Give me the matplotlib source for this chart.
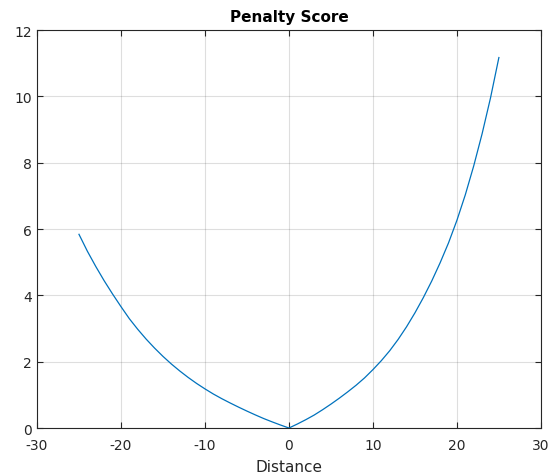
import numpy as np
import matplotlib.pyplot as plt

plt.rcParams['axes.unicode_minus'] = False

# values
distance = [-25, -24, -23, -22, -21, -20, -19, -18, -17, -16, -15, -14, -13,
            -12, -11, -10, -9, -8, -7, -6, -5, -4, -3, -2, -1, 0,
            1, 2, 3, 4, 5, 6, 7, 8, 9, 10, 11, 12, 13,
            14, 15, 16, 17, 18, 19, 20, 21, 22, 23, 24, 25]
penalty = [5.84, 5.33, 4.87, 4.44, 4.04, 3.66, 3.295, 2.975, 2.68, 2.41, 2.16, 1.93, 1.72,
           1.525, 1.345, 1.18, 1.025, 0.885, 0.755, 0.63, 0.51, 0.395, 0.285, 0.185, 0.09, 0.0,
           0.12, 0.25, 0.39, 0.55, 0.72, 0.90, 1.09, 1.29, 1.51, 1.76, 2.03, 2.33, 2.67,
           3.05, 3.47, 3.93, 4.43, 4.98, 5.58, 6.26, 7.03, 7.90, 8.87, 9.95, 11.17]
x_ticks = [-30, -20, -10, 0, 10, 20, 30]
y_ticks = [0, 2, 4, 6, 8, 10, 12]

axis_grey = '#262626'

fig = plt.figure(figsize=(5.48, 4.77), dpi=100)
ax = fig.add_axes([0.0675, 0.1006, 0.9195, 0.8344])

ax.plot(distance, penalty, color='#0072BD', lw=0.9)

ax.set_xlim(-30, 30)
ax.set_ylim(0, 12)
ax.set_xticks(x_ticks)
ax.set_yticks(y_ticks)
ax.grid(True, color=axis_grey, alpha=0.15, lw=0.8)
ax.set_axisbelow(True)

ax.tick_params(direction='in', length=4, width=0.8, top=True, right=True,
               colors=axis_grey, labelsize=10)
ax.tick_params(axis='x', pad=7)
for s in ax.spines.values():
    s.set_color(axis_grey)
    s.set_linewidth(0.8)

ax.set_title('Penalty Score', fontsize=11, fontweight='bold', pad=6.5)
ax.set_xlabel('Distance', fontsize=11, color=axis_grey, labelpad=5)

fig.savefig('out.png', dpi=100)
